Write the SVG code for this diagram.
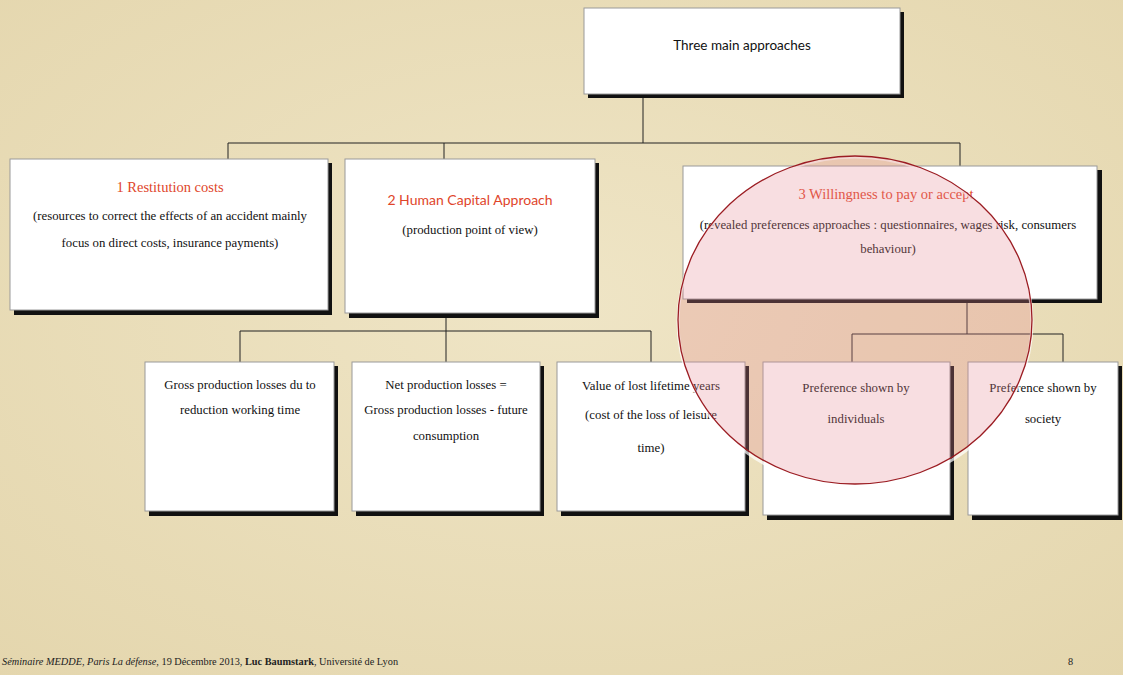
<svg xmlns="http://www.w3.org/2000/svg" width="1123" height="675" viewBox="0 0 1123 675">
<style>
.box{fill:#ffffff;stroke:#9a9a9a;stroke-width:1}
.sh{fill:#111111}
.t{font-family:"Liberation Serif",serif;font-size:12.8px;fill:#111;text-anchor:middle}
.h{font-family:"Liberation Serif",serif;font-size:14.5px;fill:#e0452a;text-anchor:middle}
.s{font-family:Lato,"Liberation Sans",sans-serif;font-size:13.5px;fill:#111;text-anchor:middle}
.r{fill:#e0452a;font-size:14px}
.ln{stroke:#222;stroke-width:1;fill:none}
</style>
<defs>
<radialGradient id="bg" cx="50%" cy="45%" r="75%">
<stop offset="0" stop-color="#efe5c6"/>
<stop offset="1" stop-color="#e4d6ad"/>
</radialGradient>
</defs>
<rect width="1123" height="675" fill="url(#bg)"/>
<g id="connectors">
<path class="ln" d="M643 96 V143 M228 143 H960 M228 143 V159 M444 143 V159 M960 143 V167"/>
<path class="ln" d="M446 316 V331 M240 331 H651 M240 331 V362 M446 331 V362 M651 331 V362"/>
<path class="ln" d="M967 300 V334 M852 334 H1063 M852 334 V362 M1063 334 V362"/>
</g>
<g id="top">
<rect class="sh" x="588" y="12" width="316" height="86"/>
<rect class="box" x="584" y="8" width="316" height="86"/>
<text class="s" x="742" y="50">Three main approaches</text>
</g>
<g id="n1">
<rect class="sh" x="14" y="163" width="318" height="152"/>
<rect class="box" x="10" y="159" width="318" height="151"/>
<text class="h" x="170" y="192">1 Restitution costs</text>
<text class="t" x="170" y="220">(resources to correct the effects of an accident mainly</text>
<text class="t" x="170" y="247">focus on direct costs, insurance payments)</text>
</g>
<g id="n2">
<rect class="sh" x="349" y="163" width="250" height="155"/>
<rect class="box" x="345" y="159" width="250" height="154"/>
<text class="s r" x="470" y="205">2 Human Capital Approach</text>
<text class="t" x="470" y="234">(production point of view)</text>
</g>
<g id="n3">
<rect class="sh" x="687" y="170" width="415" height="133"/>
<rect class="box" x="683" y="166" width="414" height="133"/>
<text class="h" x="886" y="199">3 Willingness to pay or accept</text>
<text class="t" x="888" y="229">(revealed preferences approaches : questionnaires, wages risk, consumers</text>
<text class="t" x="888" y="253">behaviour)</text>
</g>
<g id="a">
<rect class="sh" x="149" y="366" width="189" height="150"/>
<rect class="box" x="145" y="362" width="189" height="149"/>
<text class="t" x="240" y="389">Gross production losses du to</text>
<text class="t" x="240" y="414">reduction  working time</text>
</g>
<g id="b">
<rect class="sh" x="356" y="366" width="188" height="150"/>
<rect class="box" x="352" y="362" width="188" height="149"/>
<text class="t" x="446" y="389">Net production losses =</text>
<text class="t" x="446" y="414">Gross production losses - future</text>
<text class="t" x="446" y="440">consumption</text>
</g>
<g id="c">
<rect class="sh" x="561" y="366" width="188" height="150"/>
<rect class="box" x="557" y="362" width="188" height="149"/>
<text class="t" x="651" y="390">Value of lost lifetime years</text>
<text class="t" x="651" y="419">(cost of the loss of leisure</text>
<text class="t" x="651" y="452">time)</text>
</g>
<g id="d">
<rect class="sh" x="767" y="366" width="187" height="154"/>
<rect class="box" x="763" y="362" width="187" height="153"/>
<text class="t" x="856" y="392">Preference shown by</text>
<text class="t" x="856" y="423">individuals</text>
</g>
<g id="e">
<rect class="sh" x="972" y="366" width="150" height="154"/>
<rect class="box" x="968" y="362" width="150" height="153"/>
<text class="t" x="1043" y="392">Preference shown by</text>
<text class="t" x="1043" y="423">society</text>
</g>
<g id="highlight">
<ellipse cx="855" cy="322" rx="177" ry="165" fill="none" stroke="#ffffff" stroke-opacity="0.7" stroke-width="3"/>
<ellipse cx="855" cy="320" rx="177" ry="164" fill="#e58a95" fill-opacity="0.28" stroke="#9b1c22" stroke-width="1.3"/>
</g>
<g id="footer" font-family="Liberation Serif, serif" font-size="10.3" fill="#222">
<text x="2" y="665"><tspan font-style="italic">Séminaire MEDDE, Paris La défense,</tspan> 19 Décembre 2013, <tspan font-weight="bold">Luc Baumstark</tspan>, Université de Lyon</text>
<text x="1068" y="665">8</text>
</g>
</svg>
